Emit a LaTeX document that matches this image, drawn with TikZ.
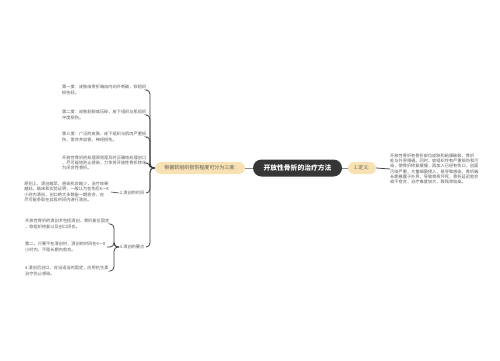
\documentclass[tikz,border=0pt]{standalone}
\usepackage{fontspec}
\setmainfont{Noto Sans CJK SC}
\definecolor{tan}{HTML}{F8E2B3}
\definecolor{darkbox}{HTML}{363636}
\definecolor{leaftext}{HTML}{5A5A5A}
\definecolor{treeline}{HTML}{3C3C3C}
\definecolor{mainline}{HTML}{8C8C8C}
\tikzset{
  leaf/.style={inner sep=0pt, align=left, text=leaftext, font=\fontsize{4.2}{5.3}\selectfont},
  sublabel/.style={inner sep=0.5pt, text=leaftext, font=\fontsize{4.2}{5.3}\selectfont},
  tanbox/.style={fill=tan, rounded corners=6pt, minimum height=12pt, inner sep=2pt, text=leaftext, font=\fontsize{5}{6}\selectfont},
  rootbox/.style={fill=darkbox, rounded corners=8.5pt, minimum height=17pt, minimum width=89pt, inner sep=2pt, text=white, font=\fontsize{6.8}{8}\selectfont\bfseries},
  tline/.style={draw=treeline, line width=0.75pt, rounded corners=4pt},
  mline/.style={draw=mainline, line width=1pt}
}
\begin{document}
\begin{tikzpicture}[x=1pt,y=-1pt]
\useasboundingbox[fill=white] (0,0) rectangle (500,360);

% central and first level
\node[rootbox] (root) at (297.5,168) {开放性骨折的治疗方法};
\node[tanbox, minimum width=90pt] (grade) at (200,168) {根据软组织损伤程度可分为三度:};
\node[tanbox, minimum width=28pt] (def) at (362,168) {1.定义:};
\draw[mline] (grade.east) -- (root.west);
\draw[mline] (root.east) -- (def.west);

% right text
\node[leaf, anchor=west] (deftext) at (390,169) {开放性骨折有骨折部位皮肤和粘膜破裂，骨折\\处与外界相通。同时，软组织伴有严重损伤和污\\染，使骨折修复缓慢，再加入已经有伤口，创面\\污染严重，大量细菌侵入，易导致感染，骨折端\\长期暴露于外界，导致骨质坏死，骨折延迟愈合\\或不愈合，治疗难度较大，致残率较高。};
\draw[draw=treeline, line width=0.75pt] (def.east) -- (deftext.west);

% left leaves
\node[leaf, anchor=west] (a) at (62,90) {第一度：皮肤由骨折端自内向外刺破，软组织\\损伤轻。};
\node[leaf, anchor=west] (b) at (62,115) {第二度：皮肤割裂或压碎，皮下组织与肌组织\\中度损伤。};
\node[leaf, anchor=west] (c) at (62,137) {第三度：广泛的皮肤、皮下组织与肌肉严重损\\伤，常合并血管、神经损伤。};
\node[leaf, anchor=west] (d) at (62,163) {开放性骨折的处理原则是及时正确地处理创口\\，尽可能地防止感染，力争将开放性骨折转化\\为闭合性骨折。};
\node[sublabel, anchor=east] (t2) at (145,193) {2.清创的时间};
\node[sublabel, anchor=east] (t3) at (145,247) {3.清创的要点};

\node[leaf, anchor=east] (e) at (109,192) {原则上，清创越早，感染机会越少，治疗效果\\越好。临床和实验证明，一般认为在伤后6～8\\小时内清创，创口绝大多数能一期愈合，应\\尽可能争取在此段时间内进行清创。};
\node[leaf, anchor=west] (f1) at (25,224) {开放性骨折的清创术包括清创、骨折复位固定\\，软组织修复以及创口闭合。};
\node[leaf, anchor=west] (f2) at (25,247) {第二，只要不在清创时，清创的时间在6～8\\小时内，不是长期内愈合。};
\node[leaf, anchor=west] (f3) at (25,271) {4.清创后创口，应当适当的固定，应用抗生素\\治疗防止感染。};

% main left tree
\coordinate (hub) at (150,168);
\foreach \n in {a,b,c,d,t2,t3}{
  \draw[tline] (grade.west) -- (hub) -- (hub |- \n.east) -- ([xshift=1pt]\n.east);
}
\draw[draw=treeline, line width=0.6pt] (e.east) ++(2pt,0) -- (t2.west);

% bracket of 3
\coordinate (hub3) at (114,247);
\foreach \n in {f1,f2,f3}{
  \draw[tline] (t3.west) -- (hub3) -- (hub3 |- \n.east) -- ([xshift=1.5pt]\n.east);
}
\end{tikzpicture}
\end{document}
